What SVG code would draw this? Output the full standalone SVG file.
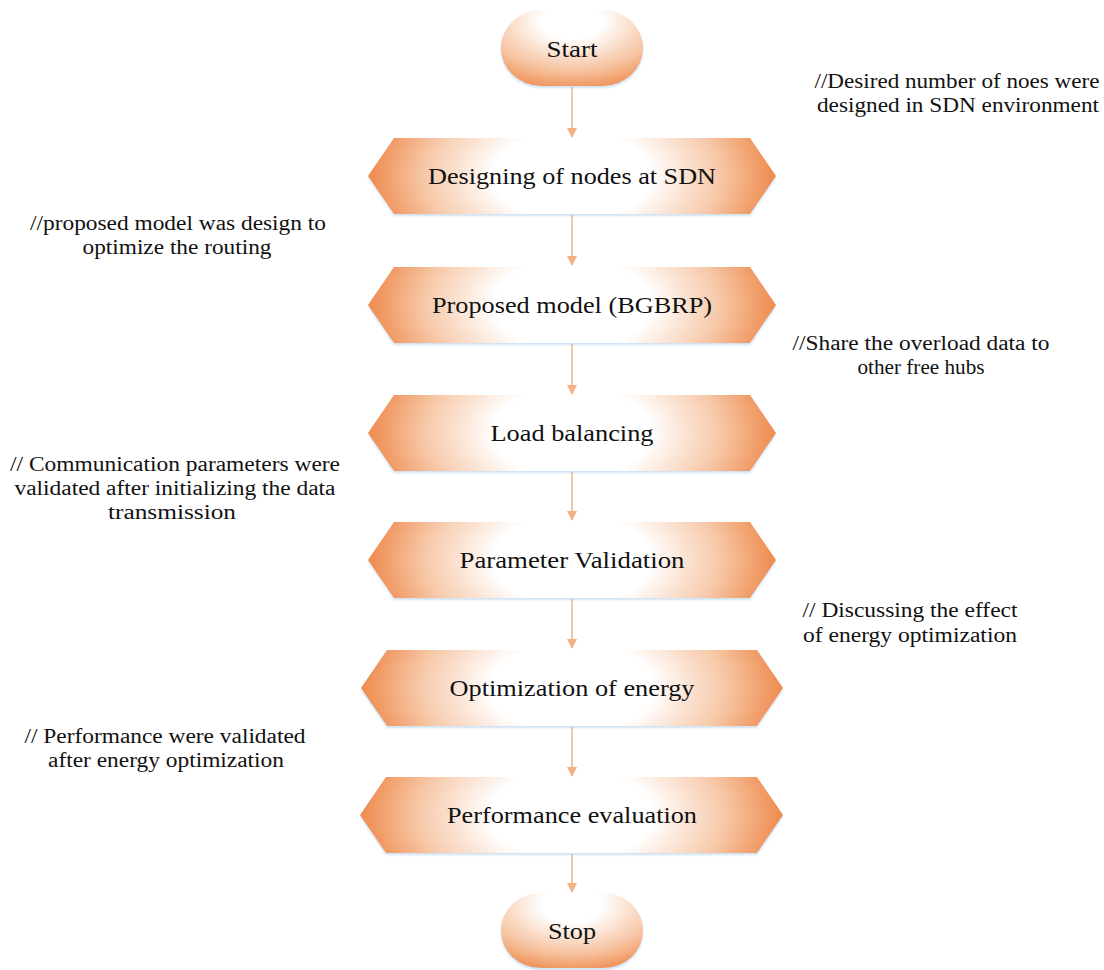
<svg xmlns="http://www.w3.org/2000/svg" width="1104" height="970" viewBox="0 0 1104 970">
<defs>
<radialGradient id="gHex" cx="0.5" cy="0.5" r="0.5" gradientTransform="translate(0.5,0.5) scale(1,3.2) translate(-0.5,-0.5)">
<stop offset="0" stop-color="#FFFFFF"/>
<stop offset="0.38" stop-color="#FFFFFF"/>
<stop offset="0.72" stop-color="#F7C9A9"/>
<stop offset="1" stop-color="#EE8A4C"/>
</radialGradient>
<radialGradient id="gTerm" cx="0.5" cy="0.15" r="0.85" gradientTransform="translate(0.5,0.15) scale(1,1.1) translate(-0.5,-0.15)">
<stop offset="0" stop-color="#FFFFFF"/>
<stop offset="0.25" stop-color="#FFFFFF"/>
<stop offset="0.7" stop-color="#F6C3A0"/>
<stop offset="1" stop-color="#EE8A4C"/>
</radialGradient>
<filter id="sh" x="-10%" y="-10%" width="120%" height="130%">
<feDropShadow dx="0" dy="2" stdDeviation="1.2" flood-color="#9DC3E6" flood-opacity="0.5"/>
</filter>
<marker id="ah" markerWidth="10" markerHeight="10" refX="9" refY="5" orient="auto" markerUnits="userSpaceOnUse">
<path d="M0,0 L10,5 L0,10 Z" fill="#F4B183"/>
</marker>
</defs>
<style>
.hex{fill:url(#gHex);filter:url(#sh);}
.term{fill:url(#gTerm);filter:url(#sh);}
text{font-family:'Liberation Serif','Times New Roman',Tinos,serif;fill:#111;text-anchor:middle;}
.lbl{font-size:24px;}
.note{font-size:20px;}
.conn{stroke:#F4B183;stroke-width:1.5;fill:none;marker-end:url(#ah);}
</style>
<rect width="1104" height="970" fill="#FFFFFF"/>

<g id="connectors">
<line class="conn" x1="572" y1="87" x2="572" y2="137"/>
<line class="conn" x1="572" y1="215" x2="572" y2="265"/>
<line class="conn" x1="572" y1="344" x2="572" y2="394"/>
<line class="conn" x1="572" y1="472" x2="572" y2="520"/>
<line class="conn" x1="572" y1="599" x2="572" y2="648"/>
<line class="conn" x1="572" y1="727" x2="572" y2="776"/>
<line class="conn" x1="572" y1="854" x2="572" y2="892"/>
</g>

<g id="start">
<rect class="term" x="501" y="10" width="142" height="76" rx="40" ry="38"/>
<text class="lbl" x="572" y="57" textLength="51" lengthAdjust="spacingAndGlyphs">Start</text>
</g>

<g id="designing">
<polygon class="hex" points="368,176 394,138 750,138 776,176 750,214 394,214"/>
<text class="lbl" x="572" y="184" textLength="288" lengthAdjust="spacingAndGlyphs">Designing of nodes at SDN</text>
</g>

<g id="proposed">
<polygon class="hex" points="368,305 394,267 750,267 776,305 750,343 394,343"/>
<text class="lbl" x="572" y="313" textLength="280" lengthAdjust="spacingAndGlyphs">Proposed model (BGBRP)</text>
</g>

<g id="load">
<polygon class="hex" points="368,433 394,395 750,395 776,433 750,471 394,471"/>
<text class="lbl" x="572" y="441" textLength="163" lengthAdjust="spacingAndGlyphs">Load balancing</text>
</g>

<g id="param">
<polygon class="hex" points="368,560 394,522 750,522 776,560 750,598 394,598"/>
<text class="lbl" x="572" y="568" textLength="225" lengthAdjust="spacingAndGlyphs">Parameter Validation</text>
</g>

<g id="optim">
<polygon class="hex" points="361,688 387,650 757,650 783,688 757,726 387,726"/>
<text class="lbl" x="572" y="696" textLength="245" lengthAdjust="spacingAndGlyphs">Optimization of energy</text>
</g>

<g id="perf">
<polygon class="hex" points="360,815 386,777 757,777 783,815 757,853 386,853"/>
<text class="lbl" x="572" y="823" textLength="250" lengthAdjust="spacingAndGlyphs">Performance evaluation</text>
</g>

<g id="stop">
<rect class="term" x="501" y="893" width="142" height="75" rx="40" ry="37"/>
<text class="lbl" x="572" y="939" textLength="48" lengthAdjust="spacingAndGlyphs">Stop</text>
</g>

<g id="notes">
<text class="note" x="957" y="88" textLength="285" lengthAdjust="spacingAndGlyphs">//Desired number of noes were</text>
<text class="note" x="958" y="112" textLength="282" lengthAdjust="spacingAndGlyphs">designed in SDN environment</text>
<text class="note" x="178" y="230" textLength="296" lengthAdjust="spacingAndGlyphs">//proposed model was design to</text>
<text class="note" x="177" y="254" textLength="189" lengthAdjust="spacingAndGlyphs">optimize the routing</text>
<text class="note" x="921" y="350" textLength="257" lengthAdjust="spacingAndGlyphs">//Share the overload data to</text>
<text class="note" x="921" y="374" textLength="127" lengthAdjust="spacingAndGlyphs">other free hubs</text>
<text class="note" x="175" y="471" textLength="330" lengthAdjust="spacingAndGlyphs">// Communication parameters were</text>
<text class="note" x="175" y="495" textLength="321" lengthAdjust="spacingAndGlyphs">validated after initializing the data</text>
<text class="note" x="172" y="519" textLength="128" lengthAdjust="spacingAndGlyphs">transmission</text>
<text class="note" x="910" y="617" textLength="215" lengthAdjust="spacingAndGlyphs">// Discussing the effect</text>
<text class="note" x="910" y="642" textLength="214" lengthAdjust="spacingAndGlyphs">of energy optimization</text>
<text class="note" x="165" y="743" textLength="281" lengthAdjust="spacingAndGlyphs">// Performance were validated</text>
<text class="note" x="166" y="767" textLength="236" lengthAdjust="spacingAndGlyphs">after energy optimization</text>
</g>
</svg>
